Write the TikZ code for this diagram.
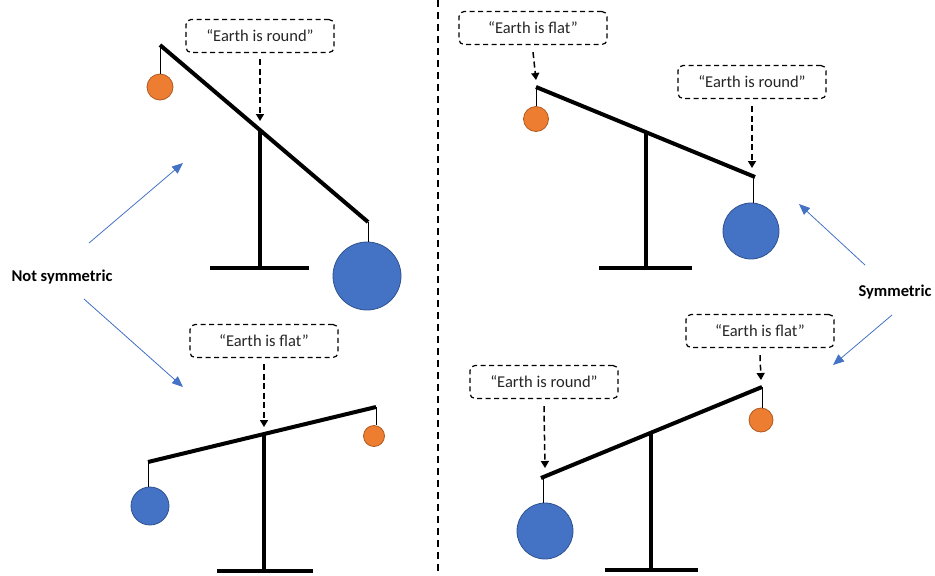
\documentclass[tikz,border=0pt]{standalone}
\usepackage{fontspec}
\setmainfont{Carlito}
\usetikzlibrary{arrows.meta}
\definecolor{ballblue}{HTML}{4472C4}
\definecolor{ballblueedge}{HTML}{2F528F}
\definecolor{ballorange}{HTML}{ED7D31}
\definecolor{ballorangeedge}{HTML}{AE5A21}
\definecolor{claimtext}{HTML}{262626}
\begin{document}
\begin{tikzpicture}[x=1pt,y=-1pt,
  claim/.style={draw, dash pattern=on 5pt off 3.5pt, line width=1.2pt, rounded corners=5pt,
    minimum width=148pt, minimum height=33pt, inner sep=0pt,
    font=\fontsize{16.5}{19}\selectfont, text=claimtext},
  push/.style={dash pattern=on 6pt off 3.5pt, line width=1.5pt,
    -{Triangle[length=7pt,width=8pt]}},
  beam/.style={line width=4pt},
  string/.style={line width=1pt},
  heavy/.style={circle, fill=ballblue, draw=ballblueedge, line width=0.8pt, inner sep=0pt},
  light/.style={circle, fill=ballorange, draw=ballorangeedge, line width=0.8pt, inner sep=0pt},
  hint/.style={draw=ballblue, line width=0.8pt, -{Triangle[length=11pt,width=9pt]}},
  verdict/.style={font=\bfseries\fontsize{16.5}{19}\selectfont}
]
\useasboundingbox (0,0) rectangle (935,576);

% divider between the two halves
\coordinate (divtop) at (438,0);
\coordinate (divbot) at (438,576);
\draw[line width=1.3pt, dash pattern=on 7pt off 5pt] (divtop) -- (divbot);

% ---------- top left: heavy right side ----------
\coordinate (Al) at (160,45);
\coordinate (Ar) at (368,222);
\coordinate (Ap) at (260,131);
\coordinate (Ab) at (260,268);
\coordinate (Abl) at (210,268);
\coordinate (Abr) at (309,268);
\draw[beam] (Al) -- (Ar);
\draw[beam] (Ap) -- (Ab);
\draw[beam] (Abl) -- (Abr);
\node[light, minimum size=26pt] (Ao) at (160,87) {};
\node[heavy, minimum size=68pt] (Ah) at (367,276) {};
\draw[string] (Al) -- (Al |- Ao.north);
\draw[string] (Ar) -- (Ar |- Ah.north);
\node[claim] (Ac) at (260,36) {“Earth is round”};
\draw[push] ([yshift=-6pt]Ac.south) -- ([yshift=10pt]Ap);

% ---------- bottom left: heavy left side ----------
\coordinate (Bl) at (148,462);
\coordinate (Br) at (376,407);
\coordinate (Bp) at (264,433);
\coordinate (Bb) at (264,571);
\coordinate (Bbl) at (217,571);
\coordinate (Bbr) at (313,571);
\draw[beam] (Bl) -- (Br);
\draw[beam] (Bp) -- (Bb);
\draw[beam] (Bbl) -- (Bbr);
\node[heavy, minimum size=38pt] (Bh) at (150,506) {};
\node[light, minimum size=21pt] (Bo) at (374,436) {};
\draw[string] (Bl) -- (Bl |- Bh.north);
\draw[string] (Br) -- (Br |- Bo.north);
\node[claim] (Bc) at (264,341) {“Earth is flat”};
\draw[push] ([yshift=-6pt]Bc.south) -- ([yshift=6pt]Bp);

% ---------- top right: heavy right side ----------
\coordinate (Cl) at (536,87);
\coordinate (Cr) at (755,177);
\coordinate (Cp) at (646,133);
\coordinate (Cb) at (646,268);
\coordinate (Cbl) at (599,268);
\coordinate (Cbr) at (692,268);
\draw[beam] (Cl) -- (Cr);
\draw[beam] (Cp) -- (Cb);
\draw[beam] (Cbl) -- (Cbr);
\node[light, minimum size=25pt] (Co) at (536,119) {};
\node[heavy, minimum size=56pt] (Ch) at (751,231) {};
\draw[string] (Cl) -- (Cl |- Co.north);
\draw[string] ([xshift=-2pt]Cr) -- ([xshift=-2pt]Cr |- Ch.north);
\node[claim] (Cc1) at (533,28) {“Earth is flat”};
\draw[push] ([yshift=-7pt]Cc1.south) -- ([yshift=7pt]Cl);
\node[claim] (Cc2) at (752,82) {“Earth is round”};
\draw[push] ([yshift=-7pt]Cc2.south) -- ([xshift=-3pt,yshift=9pt]Cr);

% ---------- bottom right: heavy left side ----------
\coordinate (Dl) at (541,478);
\coordinate (Dr) at (762,387);
\coordinate (Dp) at (651,433);
\coordinate (Db) at (651,570);
\coordinate (Dbl) at (605,570);
\coordinate (Dbr) at (698,570);
\draw[beam] (Dl) -- (Dr);
\draw[beam] (Dp) -- (Db);
\draw[beam] (Dbl) -- (Dbr);
\node[heavy, minimum size=56pt] (Dh) at (545,531) {};
\node[light, minimum size=24pt] (Do) at (761,420) {};
\draw[string] ([xshift=2pt]Dl) -- ([xshift=2pt]Dl |- Dh.north);
\draw[string] (Dr) -- (Dr |- Do.north);
\node[claim] (Dc1) at (760,331) {“Earth is flat”};
\draw[push] ([yshift=-7pt]Dc1.south) -- ([xshift=-1pt,yshift=7pt]Dr);
\node[claim] (Dc2) at (544,382) {“Earth is round”};
\draw[push] ([yshift=-7pt]Dc2.south) -- ([xshift=4pt,yshift=10pt]Dl);

% ---------- verdict labels ----------
\node[verdict] (ns) at (62,277) {Not symmetric};
\coordinate (nsup) at (183,163);
\coordinate (nsdown) at (183,387);
\draw[hint] (89,243) -- (nsup);
\draw[hint] (84,299) -- (nsdown);

\node[verdict] (sy) at (895,292) {Symmetric};
\coordinate (syup) at (799,204);
\coordinate (sydown) at (833,365);
\draw[hint] (865,265) -- (syup);
\draw[hint] (892,315) -- (sydown);
\end{tikzpicture}
\end{document}
